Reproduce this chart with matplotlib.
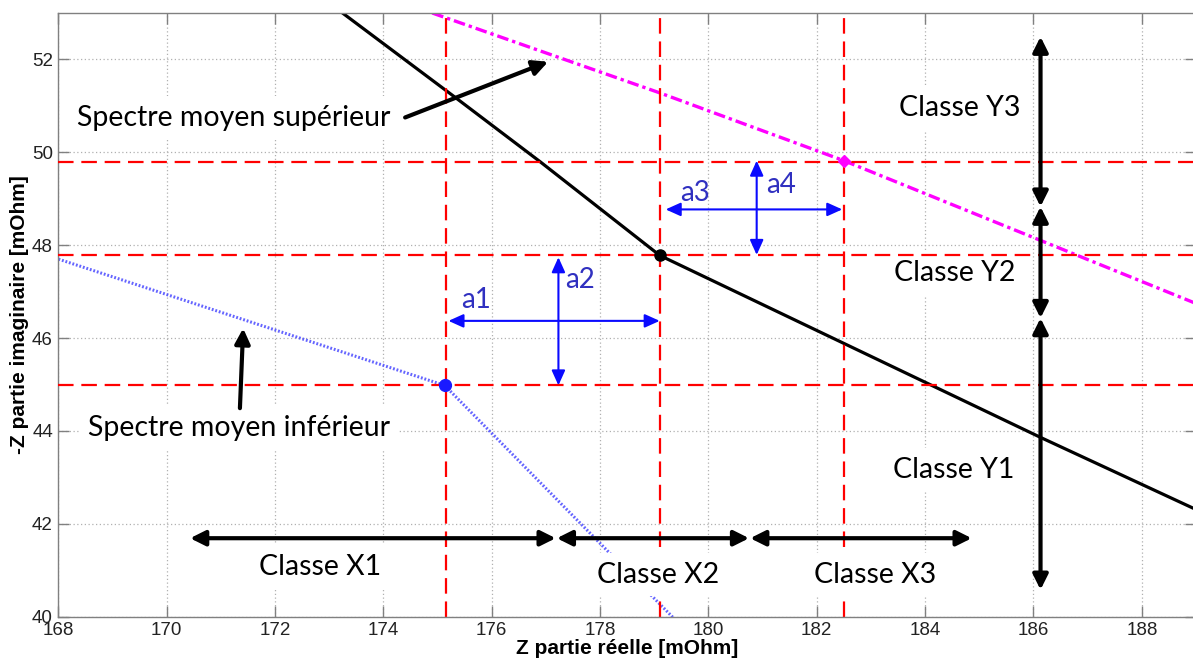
import matplotlib
matplotlib.use("Agg")
import matplotlib.pyplot as plt

mean_x = [172.9, 175.35, 176.9, 179.1, 186.15, 189.2]
mean_y = [53.3, 51.16, 49.79, 47.78, 43.85, 42.2]
sup_x = [174.9, 179.1, 182.5, 189.2]
sup_y = [53.0, 51.28, 49.82, 46.65]
inf_x = [168.0, 175.13, 179.5]
inf_y = [47.70, 44.98, 39.8]

# class boundaries
x_bounds = [175.15, 179.1, 182.5]
y_bounds = [44.98, 47.78, 49.80]

# reference points
pts_x = [179.1, 175.13, 182.5]
pts_y = [47.78, 44.98, 49.82]

# class arrows
x_class_spans = [(170.43, 177.18), (177.2, 180.75), (180.77, 184.86)]
x_class_level = 41.69
y_class_spans = [(52.49, 48.83), (48.83, 46.43), (46.43, 40.58)]
y_class_pos = 186.13
x_class_labels = ["Classe X1", "Classe X2", "Classe X3"]
x_label_pos = [(172.83, 41.08), (179.07, 40.90), (183.07, 40.90)]
y_class_labels = ["Classe Y1", "Classe Y2", "Classe Y3"]
y_label_pos = [(184.52, 43.16), (184.55, 47.40), (184.63, 50.95)]

# a1..a4 blue arrows: (x0, y0, x1, y1)
a_arrows = [(175.20, 46.37, 179.10, 46.37),
            (177.23, 47.74, 177.23, 44.98),
            (179.21, 48.77, 182.47, 48.77),
            (180.89, 49.82, 180.89, 47.79)]
a_labels = ["a1", "a2", "a3", "a4"]
a_label_pos = [(175.71, 46.82), (177.63, 47.25), (179.75, 49.12), (181.34, 49.30)]

fig = plt.figure(figsize=(11.93, 6.59), dpi=100)
ax = fig.add_axes([0.0490, 0.0642, 0.9535, 0.9161])
ax.set_xlim(168, 189)
ax.set_ylim(40, 53)
ax.set_xticks(range(168, 189, 2))
ax.set_yticks(range(40, 53, 2))

for s in ax.spines.values():
    s.set_color("#808080")
    s.set_linewidth(1.0)
ax.tick_params(direction="in", top=True, right=True, length=8, width=1,
               color="#808080", labelsize=13.5, labelcolor="#222222", pad=4)
for lab in ax.get_xticklabels() + ax.get_yticklabels():
    lab.set_family("Liberation Sans")
ax.grid(True, linestyle=(0, (1, 2)), color="#b0b0b0", linewidth=0.9)
ax.set_axisbelow(True)

ax.set_xlabel("Z partie réelle [mOhm]", fontsize=15, fontweight="bold",
              family="Liberation Sans", labelpad=0)
ax.set_ylabel("-Z partie imaginaire [mOhm]", fontsize=15, fontweight="bold",
              family="Liberation Sans", labelpad=2)

# curves
ax.plot(mean_x, mean_y, color="black", lw=2.3, zorder=2)
ax.plot(sup_x, sup_y, color="#ff00ff", lw=2.4, linestyle=(0, (3.5, 1.2, 1, 1.2)), zorder=2)
ax.plot(inf_x, inf_y, color="#4a4aff", lw=2.2, linestyle=(0, (0.6, 0.6)), alpha=0.85, zorder=2)

# class boundaries
for xv in x_bounds:
    ax.axvline(xv, color="red", lw=1.6, linestyle=(0, (7, 3.5)), zorder=2.5)
for yv in y_bounds:
    ax.axhline(yv, color="red", lw=1.6, linestyle=(0, (7, 3.5)), zorder=4)

# points
ax.plot(pts_x[0], pts_y[0], "o", color="black", ms=8, zorder=5)
ax.plot(pts_x[1], pts_y[1], "o", color="#1a1aff", ms=8.5, zorder=5)
ax.plot(pts_x[2], pts_y[2], "D", color="#ff00ff", ms=6.5, zorder=5)

txt = dict(family=["Lato", "DejaVu Sans"], fontsize=20.5, color="black")
box = dict(boxstyle="square,pad=0.3", facecolor="white", edgecolor="none")

ax.text(168.35, 50.74, "Spectre moyen supérieur", ha="left", va="center",
        bbox=box, zorder=3, **txt)
ax.text(168.54, 44.07, "Spectre moyen inférieur", ha="left", va="center",
        bbox=box, zorder=3, **txt)

black_arrow = dict(arrowstyle="-|>,head_length=0.9,head_width=0.45", color="black",
                   lw=3, mutation_scale=10, shrinkA=0, shrinkB=0)
ax.annotate("", xy=(177.04, 51.95), xytext=(174.40, 50.75), arrowprops=black_arrow, zorder=6)
ax.annotate("", xy=(171.41, 46.21), xytext=(171.35, 44.49), arrowprops=black_arrow, zorder=6)

dbl_black = dict(arrowstyle="<|-|>,head_length=0.9,head_width=0.45", color="black",
                 lw=3, mutation_scale=10, shrinkA=0, shrinkB=0)
for (x0, x1) in x_class_spans:
    ax.annotate("", xy=(x1, x_class_level), xytext=(x0, x_class_level),
                arrowprops=dbl_black, zorder=6)
for (y0, y1) in y_class_spans:
    ax.annotate("", xy=(y_class_pos, y1), xytext=(y_class_pos, y0),
                arrowprops=dbl_black, zorder=6)

for lab, (tx, ty) in zip(x_class_labels, x_label_pos):
    ax.text(tx, ty, lab, ha="center", va="center", bbox=box, zorder=3, **txt)
for lab, (tx, ty) in zip(y_class_labels, y_label_pos):
    ax.text(tx, ty, lab, ha="center", va="center", bbox=box, zorder=3, **txt)

dbl_blue = dict(arrowstyle="<|-|>,head_length=1.0,head_width=0.45", color="#0a0aff",
                lw=1.5, mutation_scale=9, shrinkA=0, shrinkB=0)
for (x0, y0, x1, y1) in a_arrows:
    ax.annotate("", xy=(x1, y1), xytext=(x0, y0), arrowprops=dbl_blue, zorder=6)
for lab, (tx, ty) in zip(a_labels, a_label_pos):
    ax.text(tx, ty, lab, ha="center", va="center", family=["Lato", "DejaVu Sans"],
            fontsize=20, color="#3030c0", zorder=6)

fig.savefig("out.png", dpi=100)
